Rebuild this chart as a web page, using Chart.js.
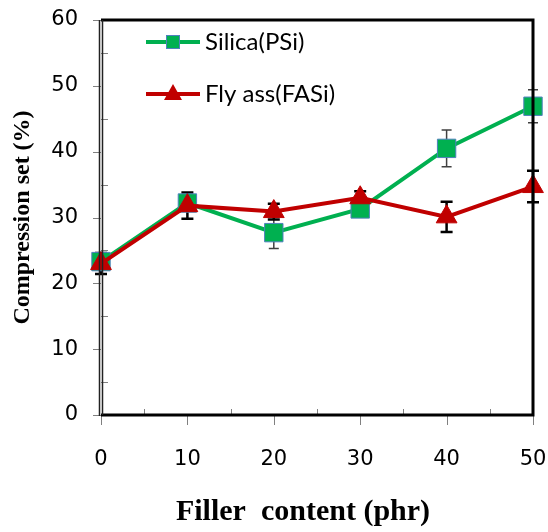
<!DOCTYPE html>
<html>
<head>
<meta charset="utf-8">
<script src="https://cdn.jsdelivr.net/npm/chart.js@4.4.0/dist/chart.umd.min.js"></script>
<style>
  html, body { margin: 0; padding: 0; background: #fff; }
  canvas { display: block; }
</style>
</head>
<body>
<canvas id="chart" width="548" height="532"></canvas>
<script>
// filler content (phr)
const fillerContent = [0, 10, 20, 30, 40, 50];
// compression set (%)
const silica = [23.3, 32.2, 27.7, 31.3, 40.5, 46.9];
const silicaErr = [1.0, 1.0, 2.4, 1.0, 2.8, 2.5];
const flyAsh = [23.0, 31.8, 30.9, 33.0, 30.1, 34.7];
const flyAshErr = [1.6, 2.0, 1.2, 1.0, 2.3, 2.4];
const yTicks = [0, 10, 20, 30, 40, 50, 60];
const seriesNames = ['Silica(PSi)', 'Fly ass(FASi)'];

const GREEN = '#00b050', RED = '#c00000', EDGE = '#4f81bd';

function toPoints(values) {
    return fillerContent.map((x, i) => ({x: x, y: values[i]}));
}

// keep the plot box where the reference has it
function noOverflow(scale) {
    scale.paddingLeft = scale.paddingRight = scale.paddingTop = scale.paddingBottom = 0;
}

// error bars, under the markers
const errorBars = {
    id: 'errorBars',
    beforeDatasetsDraw(chart) {
        const {ctx, scales: {x, y}} = chart;
        const sets = [
            {vals: silica, err: silicaErr, color: '#404040', width: 1.5, cap: 5},
            {vals: flyAsh, err: flyAshErr, color: '#000', width: 2.5, cap: 6}
        ];
        ctx.save();
        sets.forEach(s => {
            ctx.strokeStyle = s.color;
            ctx.lineWidth = s.width;
            fillerContent.forEach((c, i) => {
                const px = x.getPixelForValue(c);
                const top = y.getPixelForValue(s.vals[i] + s.err[i]);
                const bot = y.getPixelForValue(s.vals[i] - s.err[i]);
                ctx.beginPath();
                ctx.moveTo(px, top); ctx.lineTo(px, bot);
                ctx.moveTo(px - s.cap, top); ctx.lineTo(px + s.cap, top);
                ctx.moveTo(px - s.cap, bot); ctx.lineTo(px + s.cap, bot);
                ctx.stroke();
            });
        });
        ctx.restore();
    }
};

// frame, tick marks and the axis titles
const frame = {
    id: 'frame',
    afterDraw(chart) {
        const {ctx, chartArea: a, scales: {x, y}} = chart;
        ctx.save();
        // tick marks
        ctx.strokeStyle = '#808080';
        ctx.lineWidth = 1;
        ctx.beginPath();
        for (let v = 0; v <= 60; v += 5) {
            const py = Math.round(y.getPixelForValue(v)) + 0.5;
            if (v % 10 === 0) { ctx.moveTo(a.left - 8, py); ctx.lineTo(a.left, py); }
            else { ctx.moveTo(a.left, py); ctx.lineTo(a.left + 7, py); }
        }
        for (let v = 0; v <= 50; v += 5) {
            const px = Math.round(x.getPixelForValue(v)) + 0.5;
            if (v % 10 === 0) { ctx.moveTo(px, a.bottom); ctx.lineTo(px, a.bottom + 10); }
            else { ctx.moveTo(px, a.bottom); ctx.lineTo(px, a.bottom - 6); }
        }
        ctx.stroke();
        // box
        ctx.strokeStyle = '#000';
        ctx.lineWidth = 3;
        ctx.beginPath();
        ctx.moveTo(a.left, a.top); ctx.lineTo(a.right, a.top);
        ctx.lineTo(a.right, a.bottom); ctx.lineTo(a.left, a.bottom);
        ctx.stroke();
        ctx.strokeStyle = '#222';
        ctx.lineWidth = 1.5;
        ctx.beginPath();
        ctx.moveTo(a.left - 1.5, a.top); ctx.lineTo(a.left - 1.5, a.bottom + 1);
        ctx.moveTo(a.left + 1.5, a.top); ctx.lineTo(a.left + 1.5, a.bottom);
        ctx.stroke();

        // titles
        ctx.fillStyle = '#000';
        ctx.textAlign = 'center';
        ctx.textBaseline = 'middle';
        ctx.font = 'bold 30px "Liberation Serif", "Times New Roman", serif';
        ctx.fillText('Filler  content (phr)', 303, 512);
        ctx.translate(23, (a.top + a.bottom) / 2);
        ctx.rotate(-Math.PI / 2);
        ctx.font = 'bold 24px "Liberation Serif", "Times New Roman", serif';
        ctx.fillText('Compression set (%)', 0, 0);
        ctx.restore();
    }
};

// legend inside the plot
const insideLegend = {
    id: 'insideLegend',
    afterDraw(chart) {
        const ctx = chart.ctx;
        const rows = [
            {name: seriesNames[0], color: GREEN, y: 42, shape: 'square'},
            {name: seriesNames[1], color: RED, y: 94, shape: 'triangle'}
        ];
        ctx.save();
        rows.forEach(r => {
            ctx.strokeStyle = r.color;
            ctx.lineWidth = 4;
            ctx.beginPath();
            ctx.moveTo(146, r.y); ctx.lineTo(200, r.y);
            ctx.stroke();
            ctx.fillStyle = r.color;
            if (r.shape === 'square') {
                ctx.fillRect(166, r.y - 7, 14, 14);
                ctx.strokeStyle = EDGE;
                ctx.lineWidth = 1;
                ctx.strokeRect(166.5, r.y - 6.5, 13, 13);
            } else {
                ctx.beginPath();
                ctx.moveTo(173, r.y - 10);
                ctx.lineTo(182, r.y + 6);
                ctx.lineTo(164, r.y + 6);
                ctx.closePath();
                ctx.fill();
            }
            ctx.fillStyle = '#000';
            ctx.font = '24px Lato, "Open Sans", sans-serif';
            ctx.textAlign = 'left';
            ctx.textBaseline = 'middle';
            ctx.fillText(r.name, 205, r.y);
        });
        ctx.restore();
    }
};

new Chart(document.getElementById('chart'), {
    type: 'line',
    data: {
        datasets: [
            {
                label: seriesNames[0],
                data: toPoints(silica),
                borderColor: GREEN,
                borderWidth: 4,
                backgroundColor: GREEN,
                pointStyle: 'rect',
                pointRadius: 13,
                pointBorderColor: EDGE,
                pointBorderWidth: 1,
                pointBackgroundColor: GREEN,
                order: 1
            },
            {
                label: seriesNames[1],
                data: toPoints(flyAsh),
                borderColor: RED,
                borderWidth: 4,
                backgroundColor: RED,
                pointStyle: 'triangle',
                pointRadius: 12,
                pointBorderColor: RED,
                pointBorderWidth: 1,
                pointBackgroundColor: RED,
                order: 0
            }
        ]
    },
    options: {
        responsive: false,
        animation: false,
        clip: false,
        layout: {padding: {left: 0, right: 15, top: 20, bottom: 0}},
        plugins: {legend: {display: false}, tooltip: {enabled: false}},
        scales: {
            x: {
                type: 'linear',
                min: 0,
                max: 50,
                afterFit(scale) { scale.height = 117; noOverflow(scale); },
                grid: {display: false, drawTicks: false},
                border: {display: false},
                ticks: {
                    stepSize: 10,
                    padding: 32,
                    color: '#000',
                    maxRotation: 0,
                    font: {family: '"DejaVu Sans", Verdana, sans-serif', size: 21}
                }
            },
            y: {
                min: 0,
                max: 60,
                afterFit(scale) { scale.width = 101; noOverflow(scale); },
                afterBuildTicks(scale) { scale.ticks = yTicks.map(v => ({value: v})); },
                grid: {display: false, drawTicks: false},
                border: {display: false},
                ticks: {
                    padding: 23,
                    color: '#000',
                    font: {family: '"DejaVu Sans", Verdana, sans-serif', size: 21}
                }
            }
        }
    },
    plugins: [errorBars, frame, insideLegend]
});
</script>
</body>
</html>
